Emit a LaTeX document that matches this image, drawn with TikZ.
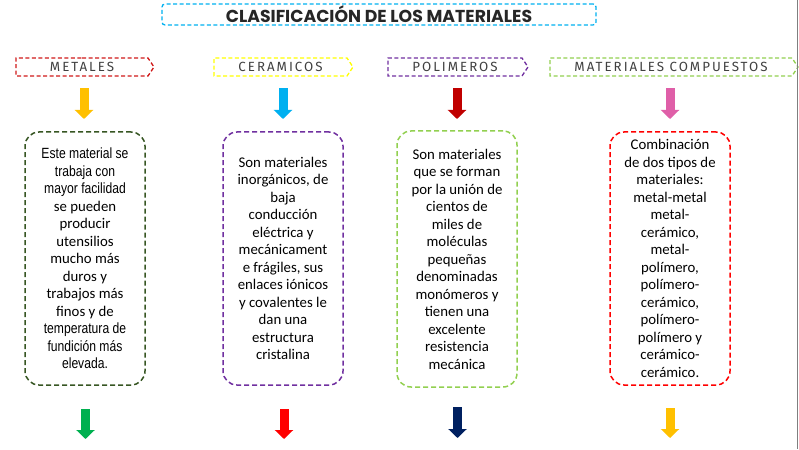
\documentclass[tikz,border=0pt]{standalone}
\usepackage{fontspec}
\setmainfont{Carlito}
\newfontfamily\narrowfont[FakeStretch=0.82]{Liberation Sans}
\newfontfamily\tagfont[LetterSpace=15]{Fira Sans}
\newfontfamily\titlefont{Poppins}
\usetikzlibrary{arrows.meta,shapes.symbols}
\definecolor{titlecyan}{HTML}{00B0F0}
\definecolor{tagred}{HTML}{D01818}
\definecolor{tagyellow}{HTML}{FFFF00}
\definecolor{tagpurple}{HTML}{7030A0}
\definecolor{taggreen}{HTML}{92D050}
\definecolor{tagtext}{HTML}{404040}
\definecolor{boxdkgreen}{HTML}{375623}
\definecolor{boxred}{HTML}{FF0000}
\definecolor{arrgold}{HTML}{FFC000}
\definecolor{arrcyan}{HTML}{00B0F0}
\definecolor{arrdkred}{HTML}{C00000}
\definecolor{arrpink}{HTML}{DF5FA8}
\definecolor{arrgreen}{HTML}{00B050}
\definecolor{arrred}{HTML}{FF0000}
\definecolor{arrnavy}{HTML}{002060}
\definecolor{edgegray}{HTML}{7F7F7F}
\tikzset{
  titlebox/.style={draw=titlecyan, rounded corners=3, dash pattern=on 4pt off 2.5pt, line width=1.3,
    minimum width=434, minimum height=21, inner sep=0,
    font=\titlefont\bfseries\fontsize{17.3}{19}\selectfont, text=black!85},
  tag/.style={signal, signal to=east, signal pointer angle=113, minimum height=18, inner sep=0,
    dash pattern=on 4pt off 2.5pt, line width=1.3,
    font=\tagfont\fontsize{13.3}{14}\selectfont, text=tagtext},
  descbox/.style={draw, rounded corners=14, dash pattern=on 5pt off 3pt, line width=1.5,
    minimum width=120, minimum height=253, align=center, inner sep=0,
    font=\fontsize{14.8}{17.5}\selectfont},
  blockarrow/.style={draw=#1, line width=9pt, -{Triangle[width=18pt,length=9pt]}}
}
\begin{document}
\begin{tikzpicture}[x=1pt,y=-1pt]
\useasboundingbox (0,0) rectangle (799,449);
% title
\node[titlebox] (title) at (379,14.5) {CLASIFICACIÓN DE LOS MATERIALES};
% tags
\node[tag, draw=tagred, minimum width=138] (metales) at (82,67) {METALES};
\node[tag, draw=tagyellow, minimum width=139] (ceramicos) at (280.5,67) {CERAMICOS};
\node[tag, draw=tagpurple, minimum width=140] (polimeros) at (455,67) {POLIMEROS};
\node[tag, draw=taggreen, minimum width=248] (compuestos) at (671,67) {MATERIALES COMPUESTOS};
% top arrows
\coordinate (t1a) at (84,88.5);  \coordinate (t1b) at (84,119);
\coordinate (t2a) at (283,88.5); \coordinate (t2b) at (283,119);
\coordinate (t3a) at (457,88.5); \coordinate (t3b) at (457,119);
\coordinate (t4a) at (670,88.5); \coordinate (t4b) at (670,119);
\draw[blockarrow=arrgold] (t1a) -- (t1b);
\draw[blockarrow=arrcyan] (t2a) -- (t2b);
\draw[blockarrow=arrdkred] (t3a) -- (t3b);
\draw[blockarrow=arrpink] (t4a) -- (t4b);
% description boxes
\node[descbox, draw=boxdkgreen] (box1) at (85,258.5) {%
\narrowfont Este material se\\
\narrowfont trabaja con\\
\narrowfont mayor facilidad\\
\normalfont se pueden\\
\normalfont producir\\
\normalfont utensilios\\
\normalfont mucho más\\
\normalfont duros y\\
\normalfont trabajos más\\
\normalfont finos y de\\
\narrowfont temperatura de\\
\narrowfont fundición más\\
\narrowfont elevada.};
\node[descbox, draw=tagpurple] (box2) at (283,258.5) {%
Son materiales\\
inorgánicos, de\\
baja\\
conducción\\
eléctrica y\\
mecánicament\\
e frágiles, sus\\
enlaces iónicos\\
y covalentes le\\
dan una\\
estructura\\
cristalina};
\node[descbox, draw=taggreen, minimum height=256] (box3) at (457,259) {%
Son materiales\\
que se forman\\
por la unión de\\
cientos de\\
miles de\\
moléculas\\
pequeñas\\
denominadas\\
monómeros y\\
tienen una\\
excelente\\
resistencia\\
mecánica};
\node[descbox, draw=boxred] (box4) at (670,258.5) {%
Combinación\\
de dos tipos de\\
materiales:\\
metal-metal\\
metal-\\
cerámico,\\
metal-\\
polímero,\\
polímero-\\
cerámico,\\
polímero-\\
polímero y\\
cerámico-\\
cerámico.};
% bottom arrows
\coordinate (b1a) at (85.5,409); \coordinate (b1b) at (85.5,439);
\coordinate (b2a) at (284,409);  \coordinate (b2b) at (284,439);
\coordinate (b3a) at (457.5,407); \coordinate (b3b) at (457.5,438);
\coordinate (b4a) at (670,408);  \coordinate (b4b) at (670,438);
\draw[blockarrow=arrgreen] (b1a) -- (b1b);
\draw[blockarrow=arrred] (b2a) -- (b2b);
\draw[blockarrow=arrnavy] (b3a) -- (b3b);
\draw[blockarrow=arrgold] (b4a) -- (b4b);
% right edge line
\coordinate (e1) at (797,0); \coordinate (e2) at (797,449);
\draw[edgegray, line width=1] (e1) -- (e2);
\end{tikzpicture}
\end{document}
